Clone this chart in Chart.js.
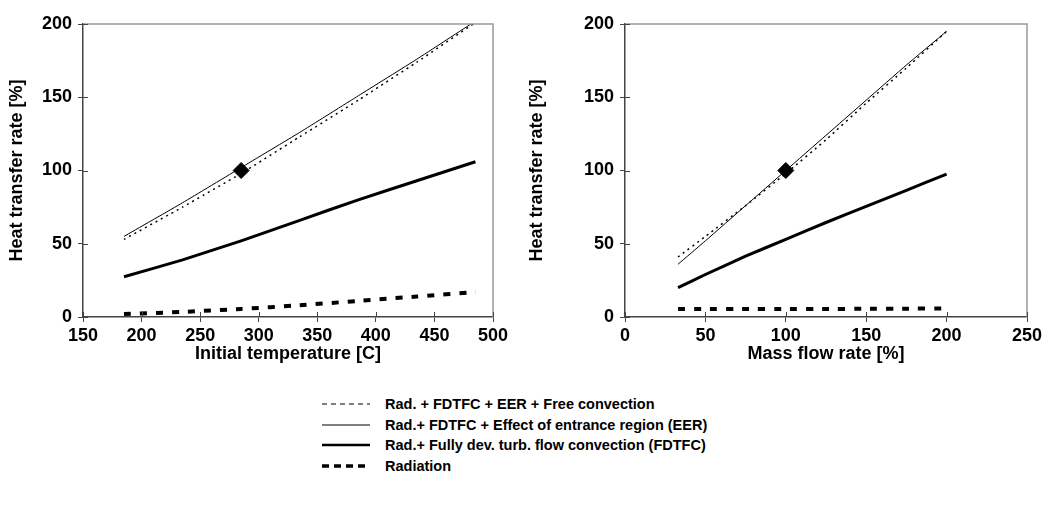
<!DOCTYPE html>
<html>
<head>
<meta charset="utf-8">
<script src="https://cdn.jsdelivr.net/npm/chart.js@4/dist/chart.umd.min.js"></script>
<style>
  body { margin: 0; background: #fff; width: 1054px; height: 507px; position: relative; overflow: hidden; font-family: "Liberation Sans", Arial, sans-serif; }
  .box { position: absolute; top: 0; height: 372px; }
  #legend { position: absolute; left: 322px; top: 394px; font-weight: bold; font-size: 14.5px; color: #000; }
  .row { height: 20.5px; display: flex; align-items: center; }
  .row svg { width: 50px; height: 10px; margin-right: 13px; }
</style>
</head>
<body>
<div class="box" style="left:0;width:520px"><canvas id="tempChart"></canvas></div>
<div class="box" style="left:520px;width:534px"><canvas id="flowChart"></canvas></div>
<div id="legend">
  <div class="row"><svg><line x1="0" y1="5" x2="48" y2="5" stroke="#000" stroke-width="1.2" stroke-dasharray="5,4"/></svg>Rad. + FDTFC + EER + Free convection</div>
  <div class="row"><svg><line x1="0" y1="5" x2="48" y2="5" stroke="#000" stroke-width="1"/></svg>Rad.+ FDTFC + Effect of entrance region (EER)</div>
  <div class="row"><svg><line x1="0" y1="5" x2="48" y2="5" stroke="#000" stroke-width="2.5"/></svg>Rad.+ Fully dev. turb. flow convection (FDTFC)</div>
  <div class="row"><svg><line x1="0" y1="5" x2="48" y2="5" stroke="#000" stroke-width="3.5" stroke-dasharray="7,5"/></svg>Radiation</div>
</div>
<script>
// Left chart: initial temperature [C]
const tempX = [185, 235, 285, 335, 385, 435, 485];
const tempFree = [53, 75, 98, 123, 148, 174, 201];
const tempEER = [55, 78, 102, 126, 151, 176, 202];
const tempFDTFC = [27.5, 39, 52, 66, 80, 93, 106];
const tempRad = [2, 3.5, 5.5, 8, 11, 14, 17];
const tempRef = [285, 100];

// Right chart: mass flow rate [%]
const flowX = [33, 50, 75, 100, 125, 150, 175, 200];
const flowFree = [41, 55, 76, 98, 121, 146, 170, 195];
const flowEER = [36, 52, 76, 100, 124, 148, 172, 195];
const flowFDTFC = [20, 29, 41.5, 53, 64.5, 75.5, 86.5, 97.5];
const flowRad = [5.5, 5.5, 5.5, 5.5, 5.5, 5.6, 5.7, 5.8];
const flowRef = [100, 100];

const yTicks = [0, 50, 100, 150, 200];

const font = { family: '"Liberation Sans", Arial, sans-serif', size: 18, weight: 'bold' };

function pts(xs, ys) {
    return xs.map((x, i) => ({ x: x, y: ys[i] }));
}

// frame on top/right + inner half of tick marks
const framePlugin = {
    id: 'frame',
    afterDraw(chart) {
        const { ctx, chartArea: a, scales } = chart;
        ctx.save();
        ctx.strokeStyle = '#999';
        ctx.lineWidth = 1.5;
        ctx.beginPath();
        ctx.moveTo(a.left, a.top);
        ctx.lineTo(a.right, a.top);
        ctx.lineTo(a.right, a.bottom);
        ctx.stroke();
        ctx.strokeStyle = '#444';
        ctx.lineWidth = 1;
        ctx.beginPath();
        scales.x.ticks.forEach(t => {
            const px = Math.round(scales.x.getPixelForValue(t.value)) + 0.5;
            ctx.moveTo(px, a.bottom);
            ctx.lineTo(px, a.bottom - 5);
        });
        scales.y.ticks.forEach(t => {
            const py = Math.round(scales.y.getPixelForValue(t.value)) + 0.5;
            ctx.moveTo(a.left, py);
            ctx.lineTo(a.left + 5, py);
        });
        ctx.stroke();
        ctx.restore();
    }
};

function makeChart(id, xs, free, eer, fdtfc, rad, ref, xMin, xMax, xTitle, leftW, padRight) {
    return new Chart(document.getElementById(id).getContext('2d'), {
        type: 'line',
        data: {
            datasets: [
                { label: 'Rad. + FDTFC + EER + Free convection', data: pts(xs, free), borderColor: '#000', borderWidth: 1.5, borderDash: [2, 4], pointRadius: 0, tension: 0.15 },
                { label: 'Rad.+ FDTFC + Effect of entrance region (EER)', data: pts(xs, eer), borderColor: '#000', borderWidth: 1, pointRadius: 0, tension: 0.15 },
                { label: 'Rad.+ Fully dev. turb. flow convection (FDTFC)', data: pts(xs, fdtfc), borderColor: '#000', borderWidth: 3, pointRadius: 0, tension: 0.15 },
                { label: 'Radiation', data: pts(xs, rad), borderColor: '#000', borderWidth: 4, borderDash: [7, 9], pointRadius: 0, tension: 0.15 },
                { label: 'Reference', data: [{ x: ref[0], y: ref[1] }], showLine: false, pointStyle: 'rectRot', pointRadius: 8, backgroundColor: '#000', borderColor: '#000' }
            ]
        },
        options: {
            responsive: false,
            animation: false,
            layout: { padding: { left: 0, right: padRight, top: 24, bottom: 0 } },
            plugins: { legend: { display: false }, tooltip: { enabled: false } },
            scales: {
                x: {
                    type: 'linear',
                    min: xMin,
                    max: xMax,
                    ticks: { stepSize: 50, color: '#000', font: font, padding: 3, maxRotation: 0 },
                    grid: { drawOnChartArea: false, tickLength: 5, color: '#444' },
                    border: { color: '#444', width: 1.5 },
                    title: { display: true, text: xTitle, color: '#000', font: font, padding: { top: 0, bottom: 7 } },
                    afterFit(s) { s.height = 55; }
                },
                y: {
                    min: 0,
                    max: 200,
                    afterBuildTicks(s) { s.ticks = yTicks.map(v => ({ value: v })); },
                    ticks: { color: '#000', font: font, padding: 6 },
                    grid: { drawOnChartArea: false, tickLength: 5, color: '#444' },
                    border: { color: '#444', width: 1.5 },
                    title: { display: true, text: 'Heat transfer rate [%]', color: '#000', font: font, padding: { top: 6, bottom: 0 } },
                    afterFit(s) { s.width = leftW; }
                }
            }
        },
        plugins: [framePlugin]
    });
}

document.getElementById('tempChart').width = 520;
document.getElementById('tempChart').height = 372;
document.getElementById('flowChart').width = 534;
document.getElementById('flowChart').height = 372;

makeChart('tempChart', tempX, tempFree, tempEER, tempFDTFC, tempRad, tempRef, 150, 500, 'Initial temperature [C]', 83, 27);
makeChart('flowChart', flowX, flowFree, flowEER, flowFDTFC, flowRad, flowRef, 0, 250, 'Mass flow rate [%]', 105, 27);
</script>
</body>
</html>
